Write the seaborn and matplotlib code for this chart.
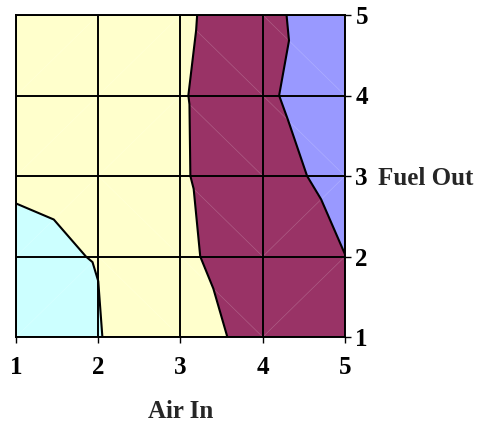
import numpy as np
import matplotlib
matplotlib.use("Agg")
import matplotlib.pyplot as plt
import matplotlib.tri as mtri
import seaborn as sns

# Grid coordinates
air_in = [1, 2, 3, 4, 5]
fuel_out = [1, 2, 3, 4, 5]

# Response surface, one row per Fuel Out level (1..5), columns Air In 1..5
response_f1 = [8.00, 9.66, 16.44, 22.69, 27.00]
response_f2 = [9.15, 10.15, 18.21, 25.67, 29.95]
response_f3 = [10.44, 11.00, 18.92, 27.93, 31.77]
response_f4 = [12.00, 13.50, 19.03, 29.21, 33.18]
response_f5 = [13.00, 14.50, 17.84, 28.51, 33.66]

levels = [0, 10, 20, 30, 40]
band_colors = ["#CCFFFF", "#FFFFCC", "#993366", "#9999FF"]
tick_labels = ["1", "2", "3", "4", "5"]

# Diagonal used to split each grid cell into two triangles, rows = Fuel Out 1-2 .. 4-5
cell_split = [
    ["/", "\\", "\\", "/"],
    ["/", "\\", "\\", "/"],
    ["/", "/", "\\", "\\"],
    ["/", "/", "\\", "\\"],
]

sns.set_style("white")
plt.rcParams["font.family"] = ["Liberation Serif", "DejaVu Serif"]
plt.rcParams["font.weight"] = "bold"

Z = np.array([response_f1, response_f2, response_f3, response_f4, response_f5])
X, Y = np.meshgrid(air_in, fuel_out)
nx = len(air_in)

triangles = []
for j, row in enumerate(cell_split):
    for i, diag in enumerate(row):
        p00 = j * nx + i
        p10 = p00 + 1
        p01 = p00 + nx
        p11 = p01 + 1
        if diag == "/":
            triangles += [[p00, p10, p11], [p00, p11, p01]]
        else:
            triangles += [[p00, p10, p01], [p10, p11, p01]]

tri = mtri.Triangulation(X.ravel(), Y.ravel(), triangles)

fig = plt.figure(figsize=(4.79, 4.25), dpi=100)
ax = fig.add_axes([16 / 479, 1 - 337 / 425, (345 - 16) / 479, (337 - 15) / 425])

ax.tricontourf(tri, Z.ravel(), levels=levels, colors=band_colors)

# faint triangulation diagonals
xs, ys = tri.x, tri.y
for a, b in tri.edges:
    if xs[a] != xs[b] and ys[a] != ys[b]:
        ax.plot([xs[a], xs[b]], [ys[a], ys[b]], color="white", lw=0.5, alpha=0.2, zorder=2)

ax.tricontour(tri, Z.ravel(), levels=levels[1:-1], colors="black", linewidths=1.5, zorder=3)

ax.set_xlim(air_in[0], air_in[-1])
ax.set_ylim(fuel_out[0], fuel_out[-1])
ax.set_xticks(air_in)
ax.set_xticklabels(tick_labels)
ax.set_yticks(fuel_out)
ax.set_yticklabels(tick_labels)
ax.grid(True, color="black", lw=1.4)
ax.set_axisbelow(False)
for s in ax.spines.values():
    s.set_color("black")
    s.set_linewidth(1.4)

ax.yaxis.tick_right()
ax.tick_params(axis="y", left=False, right=True, direction="out", length=4.5,
               width=1, pad=3, labelsize=18, colors="black")
ax.tick_params(axis="x", bottom=True, direction="out", length=4.5, width=1,
               pad=9, labelsize=18, colors="black")
for lab in ax.get_xticklabels() + ax.get_yticklabels():
    lab.set_fontweight("bold")

ax.set_xlabel("Air In", fontsize=18, fontweight="bold", labelpad=15)
ax.yaxis.set_label_position("right")
ax.set_ylabel("Fuel Out", fontsize=18, fontweight="bold", rotation=0,
              ha="left", va="center_baseline")
ax.yaxis.set_label_coords((378 - 16) / (345 - 16), 0.5)

fig.savefig("out.png", dpi=100, facecolor="white")
